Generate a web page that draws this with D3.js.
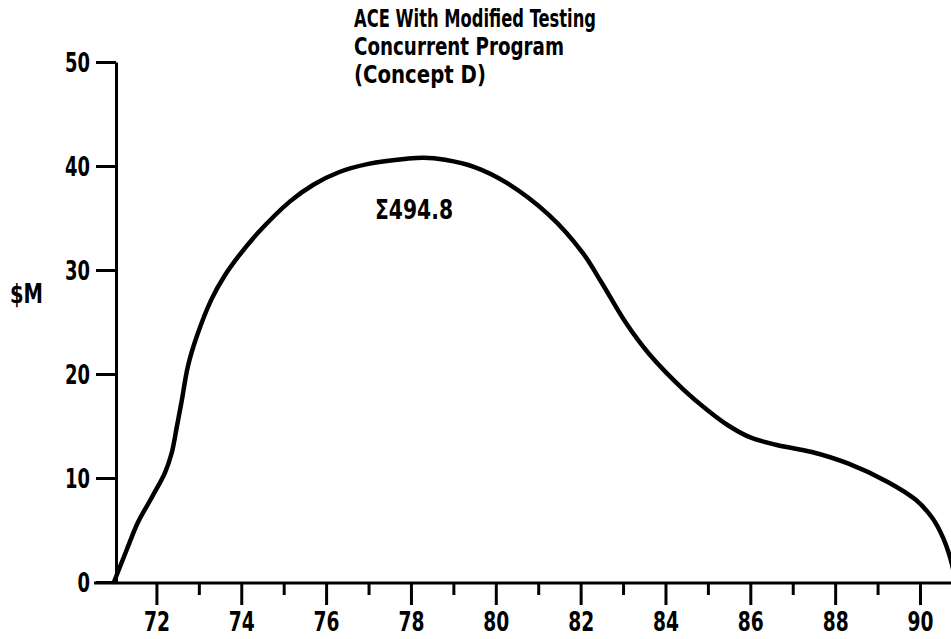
<!DOCTYPE html>
<html>
<head>
<meta charset="utf-8">
<script src="https://cdn.jsdelivr.net/npm/d3@7"></script>
<style>
  html, body { margin: 0; padding: 0; background: #fff; }
  svg { display: block; }
  text { font-family: "Liberation Sans Narrow", "DejaVu Sans Condensed", "Arial Narrow", sans-serif; font-weight: bold; fill: #000; }
</style>
</head>
<body>
<svg id="chart" width="951" height="639"></svg>
<script>
// Annual funding profile, fiscal years vs. $M
const years = [71.0, 71.3, 71.56, 71.9, 72.2, 72.36, 72.48, 72.6, 72.74, 72.95, 73.3, 73.6, 73.95, 74.4,
               75.15, 75.7, 76.3, 77.0, 77.9, 78.3, 78.8, 79.5, 80.25, 81.25, 82.04, 82.5, 83.07, 83.6,
               84.4, 85.0, 85.5, 86.0, 86.6, 87.45, 88.3, 89.25, 89.9, 90.3, 90.55, 90.7, 90.85];
const costs = [0, 3.1, 5.7, 8.2, 10.5, 12.4, 14.9, 17.5, 20.7, 23.6, 27.2, 29.4, 31.4, 33.6,
               36.6, 38.2, 39.4, 40.2, 40.7, 40.8, 40.6, 39.9, 38.4, 35.3, 31.7, 28.75, 24.9, 22.0,
               18.6, 16.5, 15.0, 13.9, 13.2, 12.5, 11.4, 9.6, 7.9, 6.1, 4.2, 2.5, 0];
const yTickValues = [0, 10, 20, 30, 40, 50];
const xMajorTicks = [72, 74, 76, 78, 80, 82, 84, 86, 88, 90];
const xMinorTicks = [73, 75, 77, 79, 81, 83, 85, 87, 89];
const titleLines = ["ACE With Modified Testing", "Concurrent Program", "(Concept D)"];
const totalLabel = "\u03A3494.8";
const unitLabel = "$M";

const svg = d3.select("#chart");

const x = d3.scaleLinear().domain([71, 90]).range([114, 920]);
const y = d3.scaleLinear().domain([0, 50]).range([582, 62]);

// Y axis: vertical rule with ticks pointing left
const yAxis = d3.axisLeft(y).tickValues(yTickValues).tickSize(20).tickPadding(6).tickSizeOuter(0);
const gy = svg.append("g").attr("transform", "translate(116,0)").call(yAxis);
gy.select(".domain").attr("stroke", "#000").attr("stroke-width", 3);
gy.selectAll(".tick line").attr("stroke", "#000").attr("stroke-width", 3);
gy.selectAll(".tick text")
  .attr("font-size", 27).attr("dy", "0.36em").attr("fill", "#000")
  .attr("textLength", d => String(d).length * 12.5)
  .attr("lengthAdjust", "spacingAndGlyphs");

// X axis baseline runs across the full width
svg.append("line").attr("x1", 94).attr("x2", 951).attr("y1", 583).attr("y2", 583)
  .attr("stroke", "#000").attr("stroke-width", 3);

// Minor (odd-year) ticks
const xMinor = d3.axisBottom(x).tickValues(xMinorTicks).tickSize(12).tickFormat("");
const gxm = svg.append("g").attr("transform", "translate(0,583)").call(xMinor);
gxm.select(".domain").remove();
gxm.selectAll(".tick line").attr("stroke", "#000").attr("stroke-width", 3);

// Major (even-year) ticks with labels
const xMajor = d3.axisBottom(x).tickValues(xMajorTicks).tickSize(22).tickPadding(7).tickFormat(d3.format("d"));
const gx = svg.append("g").attr("transform", "translate(0,583)").call(xMajor);
gx.select(".domain").remove();
gx.selectAll(".tick line").attr("stroke", "#000").attr("stroke-width", 3);
gx.selectAll(".tick text")
  .attr("font-size", 27).attr("fill", "#000")
  .attr("textLength", 26)
  .attr("lengthAdjust", "spacingAndGlyphs");

// Funding curve
const line = d3.line()
  .x((d, i) => x(years[i]))
  .y((d, i) => y(costs[i]))
  .curve(d3.curveCatmullRom.alpha(0.5));
svg.append("path")
  .datum(costs)
  .attr("d", line)
  .attr("fill", "none")
  .attr("stroke", "#000")
  .attr("stroke-width", 4.5)
  .attr("stroke-linejoin", "round")
  .attr("stroke-linecap", "round");

// Title block
const titleWidths = [242, 210, 132];
titleLines.forEach((t, i) => {
  svg.append("text")
    .attr("x", 354)
    .attr("y", 27 + i * 28)
    .attr("font-size", 25)
    .attr("textLength", titleWidths[i])
    .attr("lengthAdjust", "spacingAndGlyphs")
    .text(t);
});

// Total label
svg.append("text")
  .attr("x", 375).attr("y", 219)
  .attr("font-size", 27)
  .attr("textLength", 78)
  .attr("lengthAdjust", "spacingAndGlyphs")
  .text(totalLabel);

// Unit label
svg.append("text")
  .attr("x", 10).attr("y", 303)
  .attr("font-size", 27)
  .attr("textLength", 33)
  .attr("lengthAdjust", "spacingAndGlyphs")
  .text(unitLabel);
</script>
</body>
</html>
